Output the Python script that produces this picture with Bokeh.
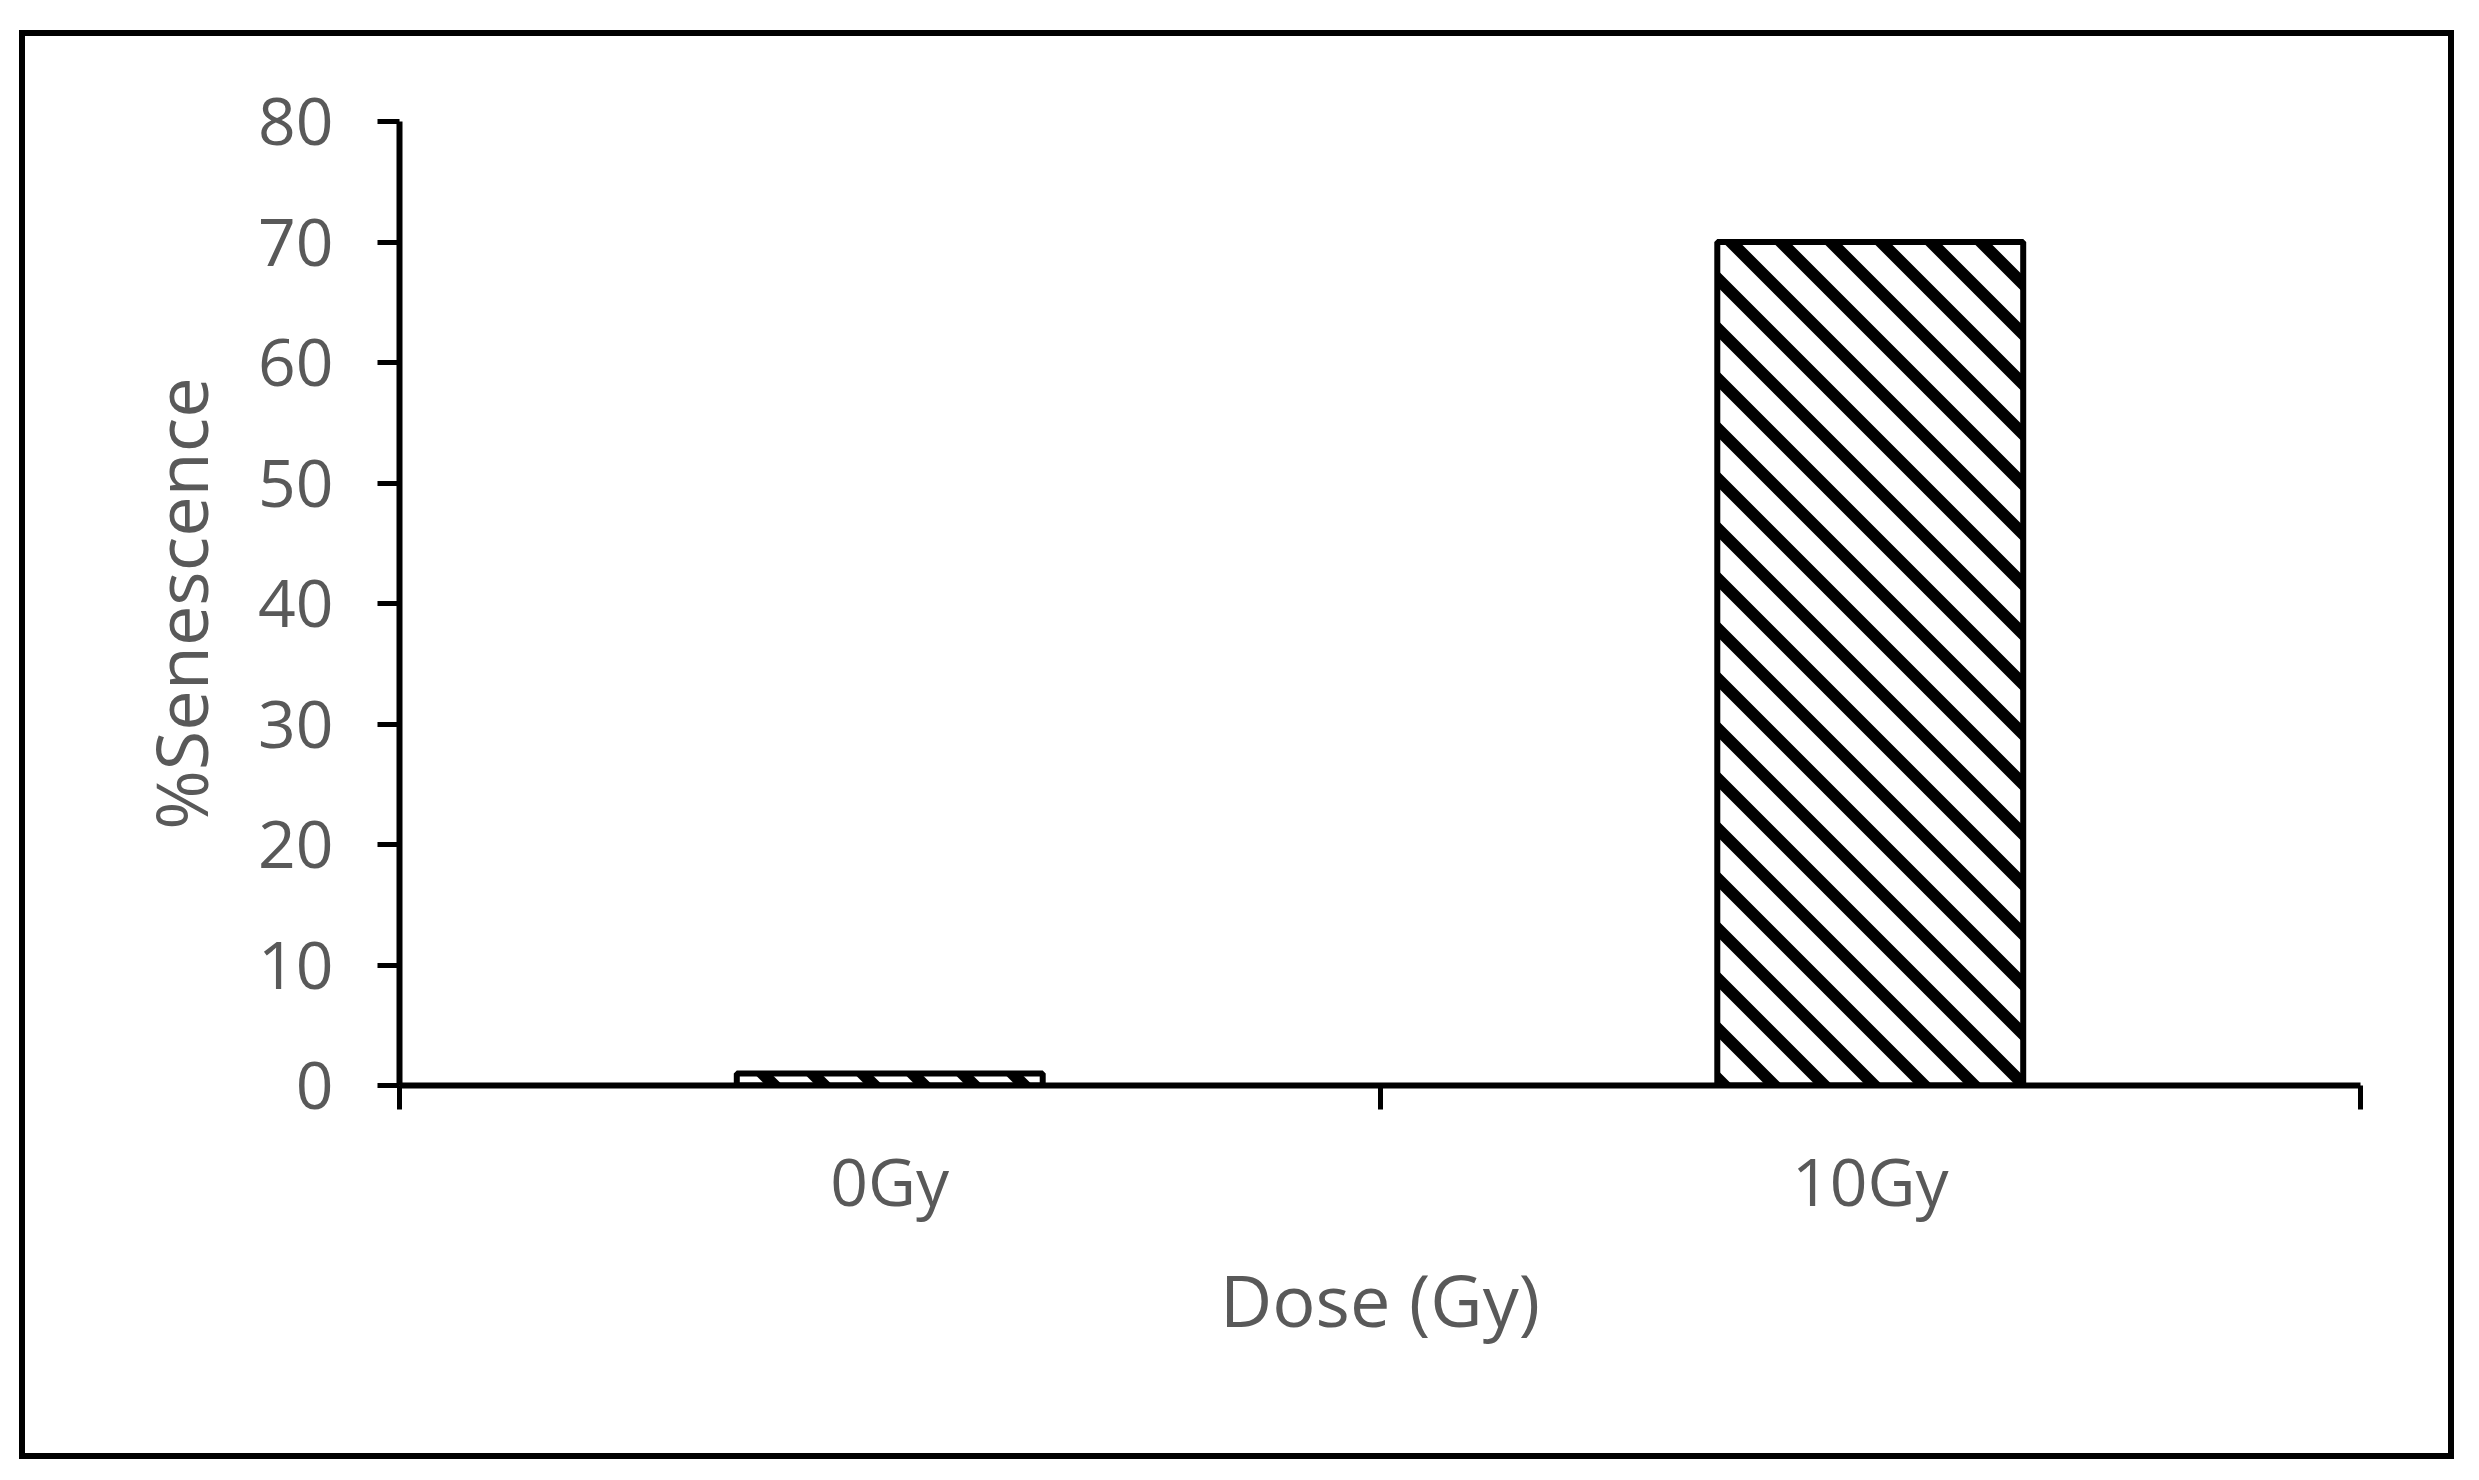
from bokeh.plotting import figure
from bokeh.models import Range1d, FixedTicker, CanvasTexture
from bokeh.embed import file_html
from bokeh.resources import INLINE

# Data
doses = ["0Gy", "10Gy"]
senescence = [1, 70]
y_ticks = [0, 10, 20, 30, 40, 50, 60, 70, 80]
x_title = "Dose (Gy)"
y_title = "%Senescence"

x_pos = [i + 0.5 for i in range(len(doses))]
boundaries = list(range(len(doses) + 1))

TEXT = "#595959"
FONT = "Open Sans"

# 45-degree "downward diagonal" stripes (top-left to bottom-right), 50px tile
diag = CanvasTexture(repetition="repeat", code="""
var S = 50, LW = 12;
var c = ctx.canvas;
if (c) { c.width = S; c.height = S; }
ctx.setTransform(1, 0, 0, 1, 0, 0);
ctx.clearRect(0, 0, S, S);
ctx.strokeStyle = "#000000";
ctx.lineWidth = LW;
ctx.beginPath();
for (var k = -3; k <= 3; k++) {
  ctx.moveTo(k*S - 2*S, -2*S);
  ctx.lineTo(k*S + 2*S, 2*S);
}
ctx.stroke();
""")

p = figure(
    width=2423, height=1417,
    x_range=Range1d(0, len(doses)), y_range=Range1d(0, 80),
    output_backend="svg", toolbar_location=None,
    min_border_left=374, min_border_right=100,
    min_border_top=85, min_border_bottom=380,
    background_fill_color="white", border_fill_color="white",
    outline_line_color=None,
    styles={"border": "6px solid black", "box-sizing": "content-box",
            "position": "absolute", "left": "19px", "top": "30px"},
)
p.grid.visible = False

p.vbar(x=x_pos, top=senescence, bottom=0, width=0.312,
       fill_color="white", line_color="black", line_width=6,
       hatch_pattern="\\",
       hatch_extra={"\\": diag, "left_diagonal_line": diag},
       hatch_color="black", hatch_scale=50, hatch_weight=12)

# Y axis
ya = p.yaxis[0]
ya.ticker = FixedTicker(ticks=y_ticks, minor_ticks=[])
ya.axis_line_width = 6
ya.axis_line_color = "black"
ya.major_tick_line_width = 5
ya.major_tick_line_color = "black"
ya.major_tick_out = 22
ya.major_tick_in = 0
ya.minor_tick_line_color = None
ya.major_label_text_font = FONT
ya.major_label_text_font_size = "66px"
ya.major_label_text_color = TEXT
ya.major_label_standoff = 44
ya.axis_label = y_title
ya.axis_label_text_font = FONT
ya.axis_label_text_font_size = "72px"
ya.axis_label_text_font_style = "normal"
ya.axis_label_text_color = TEXT
ya.axis_label_standoff = 26

# X axis: labels at category centres, ticks at category boundaries
xa = p.xaxis[0]
xa.ticker = FixedTicker(ticks=x_pos, minor_ticks=boundaries)
xa.major_label_overrides = {x: d for x, d in zip(x_pos, doses)}
xa.axis_line_width = 6
xa.axis_line_color = "black"
xa.major_tick_line_color = None
xa.major_tick_out = 0
xa.major_tick_in = 0
xa.minor_tick_line_color = "black"
xa.minor_tick_line_width = 5
xa.minor_tick_out = 24
xa.minor_tick_in = 0
xa.major_label_text_font = FONT
xa.major_label_text_font_size = "66px"
xa.major_label_text_color = TEXT
xa.major_label_standoff = 25
xa.axis_label = x_title
xa.axis_label_text_font = FONT
xa.axis_label_text_font_size = "72px"
xa.axis_label_text_font_style = "normal"
xa.axis_label_text_color = TEXT
xa.axis_label_standoff = 22

open("out.html", "w").write(file_html(p, INLINE))
